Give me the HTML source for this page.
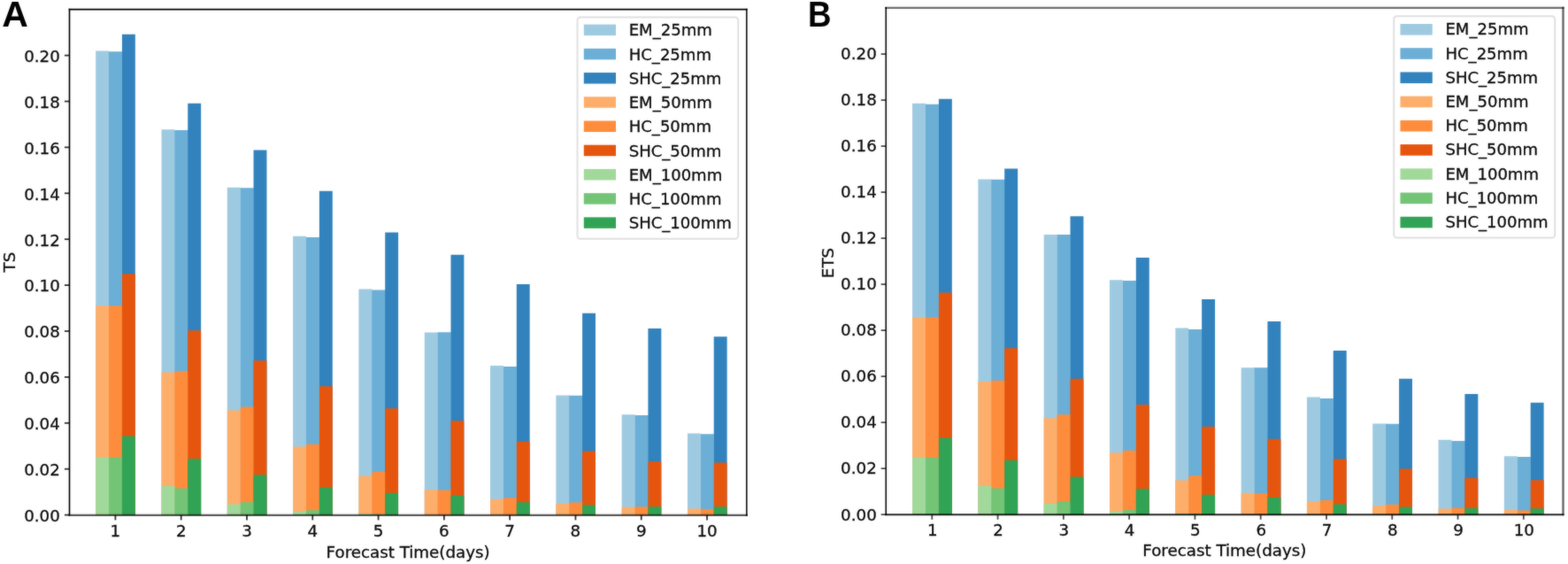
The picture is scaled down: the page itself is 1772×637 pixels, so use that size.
<!DOCTYPE html>
<html lang="en">
<head>
<meta charset="utf-8">
<title>TS and ETS by forecast time</title>
<style>
html,body{margin:0;padding:0;background:#fff;}
body{width:1772px;height:637px;overflow:hidden;}
svg{display:block;}
.t{font-family:"DejaVu Sans","Liberation Sans",sans-serif;font-size:17.4px;fill:#0a0a0a;stroke:#0a0a0a;stroke-width:0.3px;}
.pl{font-family:"Liberation Sans",Arial,Helvetica,sans-serif;font-weight:bold;font-size:41px;fill:#000;}
</style>
</head>
<body>
<svg width="1772" height="637" viewBox="0 0 1772 637">
<defs>
<filter id="soft" x="0" y="0" width="1772" height="637" filterUnits="userSpaceOnUse" color-interpolation-filters="sRGB">
<feGaussianBlur in="SourceGraphic" stdDeviation="0.85" result="b"/>
<feComposite in="SourceGraphic" in2="b" operator="arithmetic" k1="0" k2="0.6799999999999999" k3="0.32" k4="0"/>
</filter>
</defs>
<rect x="0" y="0" width="1772" height="637" fill="#ffffff"/>
<g filter="url(#soft)">
<g id="panelA">
<g class="bars">
<rect x="108.18" y="57.50" width="14.88" height="524.10" fill="#9ecae1"/>
<rect x="122.86" y="58.25" width="1.2" height="523.35" fill="#9ecae1"/>
<rect x="123.06" y="58.25" width="14.88" height="523.35" fill="#6baed6"/>
<rect x="137.74" y="58.25" width="1.2" height="523.35" fill="#6baed6"/>
<rect x="137.94" y="38.75" width="14.88" height="542.85" fill="#3182bd"/>
<rect x="108.18" y="345.25" width="14.88" height="236.35" fill="#fdae6b"/>
<rect x="122.86" y="345.25" width="1.2" height="236.35" fill="#fdae6b"/>
<rect x="123.06" y="345.25" width="14.88" height="236.35" fill="#fd8d3c"/>
<rect x="137.74" y="345.25" width="1.2" height="236.35" fill="#fd8d3c"/>
<rect x="137.94" y="309.30" width="14.88" height="272.30" fill="#e6550d"/>
<rect x="108.18" y="516.50" width="14.88" height="65.10" fill="#a1d99b"/>
<rect x="122.86" y="516.50" width="1.2" height="65.10" fill="#a1d99b"/>
<rect x="123.06" y="516.50" width="14.88" height="65.10" fill="#74c476"/>
<rect x="137.74" y="516.50" width="1.2" height="65.10" fill="#74c476"/>
<rect x="137.94" y="492.50" width="14.88" height="89.10" fill="#31a354"/>
<rect x="182.49" y="146.25" width="14.88" height="435.35" fill="#9ecae1"/>
<rect x="197.17" y="147.00" width="1.2" height="434.60" fill="#9ecae1"/>
<rect x="197.37" y="147.00" width="14.88" height="434.60" fill="#6baed6"/>
<rect x="212.05" y="147.00" width="1.2" height="434.60" fill="#6baed6"/>
<rect x="212.25" y="116.75" width="14.88" height="464.85" fill="#3182bd"/>
<rect x="182.49" y="420.50" width="14.88" height="161.10" fill="#fdae6b"/>
<rect x="197.17" y="420.50" width="1.2" height="161.10" fill="#fdae6b"/>
<rect x="197.37" y="419.00" width="14.88" height="162.60" fill="#fd8d3c"/>
<rect x="212.05" y="419.00" width="1.2" height="162.60" fill="#fd8d3c"/>
<rect x="212.25" y="373.25" width="14.88" height="208.35" fill="#e6550d"/>
<rect x="182.49" y="549.00" width="14.88" height="32.60" fill="#a1d99b"/>
<rect x="197.17" y="551.50" width="1.2" height="30.10" fill="#a1d99b"/>
<rect x="197.37" y="551.50" width="14.88" height="30.10" fill="#74c476"/>
<rect x="212.05" y="551.50" width="1.2" height="30.10" fill="#74c476"/>
<rect x="212.25" y="518.00" width="14.88" height="63.60" fill="#31a354"/>
<rect x="256.80" y="211.75" width="14.88" height="369.85" fill="#9ecae1"/>
<rect x="271.48" y="212.25" width="1.2" height="369.35" fill="#9ecae1"/>
<rect x="271.68" y="212.25" width="14.88" height="369.35" fill="#6baed6"/>
<rect x="286.36" y="212.25" width="1.2" height="369.35" fill="#6baed6"/>
<rect x="286.56" y="169.50" width="14.88" height="412.10" fill="#3182bd"/>
<rect x="256.80" y="463.50" width="14.88" height="118.10" fill="#fdae6b"/>
<rect x="271.48" y="463.50" width="1.2" height="118.10" fill="#fdae6b"/>
<rect x="271.68" y="459.50" width="14.88" height="122.10" fill="#fd8d3c"/>
<rect x="286.36" y="459.50" width="1.2" height="122.10" fill="#fd8d3c"/>
<rect x="286.56" y="407.25" width="14.88" height="174.35" fill="#e6550d"/>
<rect x="256.80" y="569.50" width="14.88" height="12.10" fill="#a1d99b"/>
<rect x="271.48" y="569.50" width="1.2" height="12.10" fill="#a1d99b"/>
<rect x="271.68" y="567.25" width="14.88" height="14.35" fill="#74c476"/>
<rect x="286.36" y="567.25" width="1.2" height="14.35" fill="#74c476"/>
<rect x="286.56" y="536.25" width="14.88" height="45.35" fill="#31a354"/>
<rect x="331.11" y="266.75" width="14.88" height="314.85" fill="#9ecae1"/>
<rect x="345.79" y="268.00" width="1.2" height="313.60" fill="#9ecae1"/>
<rect x="345.99" y="268.00" width="14.88" height="313.60" fill="#6baed6"/>
<rect x="360.67" y="268.00" width="1.2" height="313.60" fill="#6baed6"/>
<rect x="360.87" y="215.75" width="14.88" height="365.85" fill="#3182bd"/>
<rect x="331.11" y="504.50" width="14.88" height="77.10" fill="#fdae6b"/>
<rect x="345.79" y="504.50" width="1.2" height="77.10" fill="#fdae6b"/>
<rect x="345.99" y="501.75" width="14.88" height="79.85" fill="#fd8d3c"/>
<rect x="360.67" y="501.75" width="1.2" height="79.85" fill="#fd8d3c"/>
<rect x="360.87" y="436.25" width="14.88" height="145.35" fill="#e6550d"/>
<rect x="331.11" y="578.00" width="14.88" height="3.60" fill="#a1d99b"/>
<rect x="345.79" y="578.00" width="1.2" height="3.60" fill="#a1d99b"/>
<rect x="345.99" y="576.25" width="14.88" height="5.35" fill="#74c476"/>
<rect x="360.67" y="576.25" width="1.2" height="5.35" fill="#74c476"/>
<rect x="360.87" y="550.25" width="14.88" height="31.35" fill="#31a354"/>
<rect x="405.42" y="326.50" width="14.88" height="255.10" fill="#9ecae1"/>
<rect x="420.10" y="327.50" width="1.2" height="254.10" fill="#9ecae1"/>
<rect x="420.30" y="327.50" width="14.88" height="254.10" fill="#6baed6"/>
<rect x="434.98" y="327.50" width="1.2" height="254.10" fill="#6baed6"/>
<rect x="435.18" y="262.50" width="14.88" height="319.10" fill="#3182bd"/>
<rect x="405.42" y="537.50" width="14.88" height="44.10" fill="#fdae6b"/>
<rect x="420.10" y="537.50" width="1.2" height="44.10" fill="#fdae6b"/>
<rect x="420.30" y="532.75" width="14.88" height="48.85" fill="#fd8d3c"/>
<rect x="434.98" y="532.75" width="1.2" height="48.85" fill="#fd8d3c"/>
<rect x="435.18" y="461.25" width="14.88" height="120.35" fill="#e6550d"/>
<rect x="405.42" y="580.20" width="14.88" height="1.40" fill="#a1d99b"/>
<rect x="420.10" y="580.50" width="1.2" height="1.10" fill="#a1d99b"/>
<rect x="420.30" y="580.50" width="14.88" height="1.10" fill="#74c476"/>
<rect x="434.98" y="580.50" width="1.2" height="1.10" fill="#74c476"/>
<rect x="435.18" y="556.75" width="14.88" height="24.85" fill="#31a354"/>
<rect x="479.73" y="375.50" width="14.88" height="206.10" fill="#9ecae1"/>
<rect x="494.41" y="375.50" width="1.2" height="206.10" fill="#9ecae1"/>
<rect x="494.61" y="375.25" width="14.88" height="206.35" fill="#6baed6"/>
<rect x="509.29" y="375.25" width="1.2" height="206.35" fill="#6baed6"/>
<rect x="509.49" y="287.75" width="14.88" height="293.85" fill="#3182bd"/>
<rect x="479.73" y="553.25" width="14.88" height="28.35" fill="#fdae6b"/>
<rect x="494.41" y="553.50" width="1.2" height="28.10" fill="#fdae6b"/>
<rect x="494.61" y="553.50" width="14.88" height="28.10" fill="#fd8d3c"/>
<rect x="509.29" y="553.50" width="1.2" height="28.10" fill="#fd8d3c"/>
<rect x="509.49" y="475.25" width="14.88" height="106.35" fill="#e6550d"/>
<rect x="509.49" y="559.50" width="14.88" height="22.10" fill="#31a354"/>
<rect x="554.04" y="413.00" width="14.88" height="168.60" fill="#9ecae1"/>
<rect x="568.72" y="414.00" width="1.2" height="167.60" fill="#9ecae1"/>
<rect x="568.92" y="414.00" width="14.88" height="167.60" fill="#6baed6"/>
<rect x="583.60" y="414.00" width="1.2" height="167.60" fill="#6baed6"/>
<rect x="583.80" y="321.00" width="14.88" height="260.60" fill="#3182bd"/>
<rect x="554.04" y="563.75" width="14.88" height="17.85" fill="#fdae6b"/>
<rect x="568.72" y="563.75" width="1.2" height="17.85" fill="#fdae6b"/>
<rect x="568.92" y="562.25" width="14.88" height="19.35" fill="#fd8d3c"/>
<rect x="583.60" y="562.25" width="1.2" height="19.35" fill="#fd8d3c"/>
<rect x="583.80" y="498.75" width="14.88" height="82.85" fill="#e6550d"/>
<rect x="583.80" y="567.25" width="14.88" height="14.35" fill="#31a354"/>
<rect x="628.35" y="446.50" width="14.88" height="135.10" fill="#9ecae1"/>
<rect x="643.03" y="446.75" width="1.2" height="134.85" fill="#9ecae1"/>
<rect x="643.23" y="446.75" width="14.88" height="134.85" fill="#6baed6"/>
<rect x="657.91" y="446.75" width="1.2" height="134.85" fill="#6baed6"/>
<rect x="658.11" y="353.75" width="14.88" height="227.85" fill="#3182bd"/>
<rect x="628.35" y="569.00" width="14.88" height="12.60" fill="#fdae6b"/>
<rect x="643.03" y="569.00" width="1.2" height="12.60" fill="#fdae6b"/>
<rect x="643.23" y="567.50" width="14.88" height="14.10" fill="#fd8d3c"/>
<rect x="657.91" y="567.50" width="1.2" height="14.10" fill="#fd8d3c"/>
<rect x="658.11" y="509.50" width="14.88" height="72.10" fill="#e6550d"/>
<rect x="658.11" y="570.25" width="14.88" height="11.35" fill="#31a354"/>
<rect x="702.66" y="468.25" width="14.88" height="113.35" fill="#9ecae1"/>
<rect x="717.34" y="469.00" width="1.2" height="112.60" fill="#9ecae1"/>
<rect x="717.54" y="469.00" width="14.88" height="112.60" fill="#6baed6"/>
<rect x="732.22" y="469.00" width="1.2" height="112.60" fill="#6baed6"/>
<rect x="732.42" y="371.00" width="14.88" height="210.60" fill="#3182bd"/>
<rect x="702.66" y="572.75" width="14.88" height="8.85" fill="#fdae6b"/>
<rect x="717.34" y="572.75" width="1.2" height="8.85" fill="#fdae6b"/>
<rect x="717.54" y="572.25" width="14.88" height="9.35" fill="#fd8d3c"/>
<rect x="732.22" y="572.25" width="1.2" height="9.35" fill="#fd8d3c"/>
<rect x="732.42" y="521.25" width="14.88" height="60.35" fill="#e6550d"/>
<rect x="732.42" y="572.25" width="14.88" height="9.35" fill="#31a354"/>
<rect x="776.97" y="489.50" width="14.88" height="92.10" fill="#9ecae1"/>
<rect x="791.65" y="490.25" width="1.2" height="91.35" fill="#9ecae1"/>
<rect x="791.85" y="490.25" width="14.88" height="91.35" fill="#6baed6"/>
<rect x="806.53" y="490.25" width="1.2" height="91.35" fill="#6baed6"/>
<rect x="806.73" y="380.25" width="14.88" height="201.35" fill="#3182bd"/>
<rect x="776.97" y="574.50" width="14.88" height="7.10" fill="#fdae6b"/>
<rect x="791.65" y="575.00" width="1.2" height="6.60" fill="#fdae6b"/>
<rect x="791.85" y="575.00" width="14.88" height="6.60" fill="#fd8d3c"/>
<rect x="806.53" y="575.00" width="1.2" height="6.60" fill="#fd8d3c"/>
<rect x="806.73" y="522.50" width="14.88" height="59.10" fill="#e6550d"/>
<rect x="806.73" y="572.25" width="14.88" height="9.35" fill="#31a354"/>
</g>
<g class="spines" stroke-linecap="square">
<line x1="78.50" y1="10.60" x2="78.50" y2="581.80" stroke="#000" stroke-width="1.6"/>
<line x1="843.80" y1="10.60" x2="843.80" y2="581.80" stroke="#000" stroke-width="1.7" stroke-opacity="0.9"/>
<line x1="78.50" y1="10.60" x2="843.80" y2="10.60" stroke="#000" stroke-width="1.6"/>
<line x1="78.50" y1="581.80" x2="843.80" y2="581.80" stroke="#000" stroke-width="2.2" stroke-opacity="0.66"/>
</g>
<g class="xticks">
<line x1="130.40" y1="581.80" x2="130.40" y2="587.40" stroke="#000" stroke-width="1.8" stroke-opacity="0.8"/>
<text transform="translate(130.40,606.30) scale(1.05,1)" text-anchor="middle" class="t">1</text>
<line x1="204.69" y1="581.80" x2="204.69" y2="587.40" stroke="#000" stroke-width="1.8" stroke-opacity="0.8"/>
<text transform="translate(204.69,606.30) scale(1.05,1)" text-anchor="middle" class="t">2</text>
<line x1="278.98" y1="581.80" x2="278.98" y2="587.40" stroke="#000" stroke-width="1.8" stroke-opacity="0.8"/>
<text transform="translate(278.98,606.30) scale(1.05,1)" text-anchor="middle" class="t">3</text>
<line x1="353.27" y1="581.80" x2="353.27" y2="587.40" stroke="#000" stroke-width="1.8" stroke-opacity="0.8"/>
<text transform="translate(353.27,606.30) scale(1.05,1)" text-anchor="middle" class="t">4</text>
<line x1="427.56" y1="581.80" x2="427.56" y2="587.40" stroke="#000" stroke-width="1.8" stroke-opacity="0.8"/>
<text transform="translate(427.56,606.30) scale(1.05,1)" text-anchor="middle" class="t">5</text>
<line x1="501.85" y1="581.80" x2="501.85" y2="587.40" stroke="#000" stroke-width="1.8" stroke-opacity="0.8"/>
<text transform="translate(501.85,606.30) scale(1.05,1)" text-anchor="middle" class="t">6</text>
<line x1="576.14" y1="581.80" x2="576.14" y2="587.40" stroke="#000" stroke-width="1.8" stroke-opacity="0.8"/>
<text transform="translate(576.14,606.30) scale(1.05,1)" text-anchor="middle" class="t">7</text>
<line x1="650.43" y1="581.80" x2="650.43" y2="587.40" stroke="#000" stroke-width="1.8" stroke-opacity="0.8"/>
<text transform="translate(650.43,606.30) scale(1.05,1)" text-anchor="middle" class="t">8</text>
<line x1="724.72" y1="581.80" x2="724.72" y2="587.40" stroke="#000" stroke-width="1.8" stroke-opacity="0.8"/>
<text transform="translate(724.72,606.30) scale(1.05,1)" text-anchor="middle" class="t">9</text>
<line x1="799.01" y1="581.80" x2="799.01" y2="587.40" stroke="#000" stroke-width="1.8" stroke-opacity="0.8"/>
<text transform="translate(799.01,606.30) scale(1.05,1)" text-anchor="middle" class="t">10</text>
</g>
<g class="yticks">
<line x1="72.90" y1="581.60" x2="78.50" y2="581.60" stroke="#000" stroke-width="1.8" stroke-opacity="0.8"/>
<text transform="translate(67.80,588.95) scale(1.05,1)" text-anchor="end" class="t">0.00</text>
<line x1="72.90" y1="529.70" x2="78.50" y2="529.70" stroke="#000" stroke-width="1.8" stroke-opacity="0.8"/>
<text transform="translate(67.80,537.05) scale(1.05,1)" text-anchor="end" class="t">0.02</text>
<line x1="72.90" y1="477.80" x2="78.50" y2="477.80" stroke="#000" stroke-width="1.8" stroke-opacity="0.8"/>
<text transform="translate(67.80,485.15) scale(1.05,1)" text-anchor="end" class="t">0.04</text>
<line x1="72.90" y1="425.90" x2="78.50" y2="425.90" stroke="#000" stroke-width="1.8" stroke-opacity="0.8"/>
<text transform="translate(67.80,433.25) scale(1.05,1)" text-anchor="end" class="t">0.06</text>
<line x1="72.90" y1="374.00" x2="78.50" y2="374.00" stroke="#000" stroke-width="1.8" stroke-opacity="0.8"/>
<text transform="translate(67.80,381.35) scale(1.05,1)" text-anchor="end" class="t">0.08</text>
<line x1="72.90" y1="322.10" x2="78.50" y2="322.10" stroke="#000" stroke-width="1.8" stroke-opacity="0.8"/>
<text transform="translate(67.80,329.45) scale(1.05,1)" text-anchor="end" class="t">0.10</text>
<line x1="72.90" y1="270.20" x2="78.50" y2="270.20" stroke="#000" stroke-width="1.8" stroke-opacity="0.8"/>
<text transform="translate(67.80,277.55) scale(1.05,1)" text-anchor="end" class="t">0.12</text>
<line x1="72.90" y1="218.30" x2="78.50" y2="218.30" stroke="#000" stroke-width="1.8" stroke-opacity="0.8"/>
<text transform="translate(67.80,225.65) scale(1.05,1)" text-anchor="end" class="t">0.14</text>
<line x1="72.90" y1="166.40" x2="78.50" y2="166.40" stroke="#000" stroke-width="1.8" stroke-opacity="0.8"/>
<text transform="translate(67.80,173.75) scale(1.05,1)" text-anchor="end" class="t">0.16</text>
<line x1="72.90" y1="114.50" x2="78.50" y2="114.50" stroke="#000" stroke-width="1.8" stroke-opacity="0.8"/>
<text transform="translate(67.80,121.85) scale(1.05,1)" text-anchor="end" class="t">0.18</text>
<line x1="72.90" y1="62.60" x2="78.50" y2="62.60" stroke="#000" stroke-width="1.8" stroke-opacity="0.8"/>
<text transform="translate(67.80,69.95) scale(1.05,1)" text-anchor="end" class="t">0.20</text>
</g>
<text transform="translate(461.15,629.50) scale(1.05,1)" text-anchor="middle" class="t">Forecast Time(days)</text>
<text transform="translate(16.70,296.00) rotate(-90) scale(1.05,1)" text-anchor="middle" class="t">TS</text>
<text transform="translate(2.20,30.10) scale(1.0,1)" class="pl">A</text>
<g class="legend">
<rect x="652.50" y="19.50" width="181.75" height="250.30" rx="3.5" ry="3.5" fill="#fff" fill-opacity="0.8" stroke="#dcdcdc" stroke-opacity="0.9" stroke-width="1.9"/>
<rect x="659.80" y="27.60" width="36.20" height="12.5" fill="#9ecae1"/>
<text transform="translate(710.70,40.40) scale(1.037,1)" class="t">EM_25mm</text>
<rect x="659.80" y="54.82" width="36.20" height="12.5" fill="#6baed6"/>
<text transform="translate(710.70,67.62) scale(1.037,1)" class="t">HC_25mm</text>
<rect x="659.80" y="82.04" width="36.20" height="12.5" fill="#3182bd"/>
<text transform="translate(710.70,94.84) scale(1.037,1)" class="t">SHC_25mm</text>
<rect x="659.80" y="109.26" width="36.20" height="12.5" fill="#fdae6b"/>
<text transform="translate(710.70,122.06) scale(1.037,1)" class="t">EM_50mm</text>
<rect x="659.80" y="136.48" width="36.20" height="12.5" fill="#fd8d3c"/>
<text transform="translate(710.70,149.28) scale(1.037,1)" class="t">HC_50mm</text>
<rect x="659.80" y="163.70" width="36.20" height="12.5" fill="#e6550d"/>
<text transform="translate(710.70,176.50) scale(1.037,1)" class="t">SHC_50mm</text>
<rect x="659.80" y="190.92" width="36.20" height="12.5" fill="#a1d99b"/>
<text transform="translate(710.70,203.72) scale(1.037,1)" class="t">EM_100mm</text>
<rect x="659.80" y="218.14" width="36.20" height="12.5" fill="#74c476"/>
<text transform="translate(710.70,230.94) scale(1.037,1)" class="t">HC_100mm</text>
<rect x="659.80" y="245.36" width="36.20" height="12.5" fill="#31a354"/>
<text transform="translate(710.70,258.16) scale(1.037,1)" class="t">SHC_100mm</text>
</g>
</g>
<g id="panelB">
<g class="bars">
<rect x="1031.07" y="116.75" width="14.92" height="464.40" fill="#9ecae1"/>
<rect x="1045.79" y="117.75" width="1.2" height="463.40" fill="#9ecae1"/>
<rect x="1045.99" y="117.75" width="14.92" height="463.40" fill="#6baed6"/>
<rect x="1060.71" y="117.75" width="1.2" height="463.40" fill="#6baed6"/>
<rect x="1060.91" y="111.75" width="14.92" height="469.40" fill="#3182bd"/>
<rect x="1031.07" y="358.50" width="14.92" height="222.65" fill="#fdae6b"/>
<rect x="1045.79" y="358.50" width="1.2" height="222.65" fill="#fdae6b"/>
<rect x="1045.99" y="358.50" width="14.92" height="222.65" fill="#fd8d3c"/>
<rect x="1060.71" y="358.50" width="1.2" height="222.65" fill="#fd8d3c"/>
<rect x="1060.91" y="330.50" width="14.92" height="250.65" fill="#e6550d"/>
<rect x="1031.07" y="516.50" width="14.92" height="64.65" fill="#a1d99b"/>
<rect x="1045.79" y="516.75" width="1.2" height="64.40" fill="#a1d99b"/>
<rect x="1045.99" y="516.75" width="14.92" height="64.40" fill="#74c476"/>
<rect x="1060.71" y="516.75" width="1.2" height="64.40" fill="#74c476"/>
<rect x="1060.91" y="494.50" width="14.92" height="86.65" fill="#31a354"/>
<rect x="1105.38" y="202.50" width="14.92" height="378.65" fill="#9ecae1"/>
<rect x="1120.10" y="202.75" width="1.2" height="378.40" fill="#9ecae1"/>
<rect x="1120.30" y="202.75" width="14.92" height="378.40" fill="#6baed6"/>
<rect x="1135.02" y="202.75" width="1.2" height="378.40" fill="#6baed6"/>
<rect x="1135.22" y="190.50" width="14.92" height="390.65" fill="#3182bd"/>
<rect x="1105.38" y="431.00" width="14.92" height="150.15" fill="#fdae6b"/>
<rect x="1120.10" y="431.00" width="1.2" height="150.15" fill="#fdae6b"/>
<rect x="1120.30" y="429.75" width="14.92" height="151.40" fill="#fd8d3c"/>
<rect x="1135.02" y="429.75" width="1.2" height="151.40" fill="#fd8d3c"/>
<rect x="1135.22" y="393.25" width="14.92" height="187.90" fill="#e6550d"/>
<rect x="1105.38" y="549.00" width="14.92" height="32.15" fill="#a1d99b"/>
<rect x="1120.10" y="551.50" width="1.2" height="29.65" fill="#a1d99b"/>
<rect x="1120.30" y="551.50" width="14.92" height="29.65" fill="#74c476"/>
<rect x="1135.02" y="551.50" width="1.2" height="29.65" fill="#74c476"/>
<rect x="1135.22" y="519.75" width="14.92" height="61.40" fill="#31a354"/>
<rect x="1179.69" y="265.00" width="14.92" height="316.15" fill="#9ecae1"/>
<rect x="1194.41" y="265.00" width="1.2" height="316.15" fill="#9ecae1"/>
<rect x="1194.61" y="265.00" width="14.92" height="316.15" fill="#6baed6"/>
<rect x="1209.33" y="265.00" width="1.2" height="316.15" fill="#6baed6"/>
<rect x="1209.53" y="244.25" width="14.92" height="336.90" fill="#3182bd"/>
<rect x="1179.69" y="472.25" width="14.92" height="108.90" fill="#fdae6b"/>
<rect x="1194.41" y="472.25" width="1.2" height="108.90" fill="#fdae6b"/>
<rect x="1194.61" y="468.25" width="14.92" height="112.90" fill="#fd8d3c"/>
<rect x="1209.33" y="468.25" width="1.2" height="112.90" fill="#fd8d3c"/>
<rect x="1209.53" y="427.75" width="14.92" height="153.40" fill="#e6550d"/>
<rect x="1179.69" y="569.00" width="14.92" height="12.15" fill="#a1d99b"/>
<rect x="1194.41" y="569.00" width="1.2" height="12.15" fill="#a1d99b"/>
<rect x="1194.61" y="566.25" width="14.92" height="14.90" fill="#74c476"/>
<rect x="1209.33" y="566.25" width="1.2" height="14.90" fill="#74c476"/>
<rect x="1209.53" y="538.50" width="14.92" height="42.65" fill="#31a354"/>
<rect x="1254.00" y="316.25" width="14.92" height="264.90" fill="#9ecae1"/>
<rect x="1268.72" y="317.00" width="1.2" height="264.15" fill="#9ecae1"/>
<rect x="1268.92" y="317.00" width="14.92" height="264.15" fill="#6baed6"/>
<rect x="1283.64" y="317.00" width="1.2" height="264.15" fill="#6baed6"/>
<rect x="1283.84" y="291.00" width="14.92" height="290.15" fill="#3182bd"/>
<rect x="1254.00" y="511.25" width="14.92" height="69.90" fill="#fdae6b"/>
<rect x="1268.72" y="511.25" width="1.2" height="69.90" fill="#fdae6b"/>
<rect x="1268.92" y="508.75" width="14.92" height="72.40" fill="#fd8d3c"/>
<rect x="1283.64" y="508.75" width="1.2" height="72.40" fill="#fd8d3c"/>
<rect x="1283.84" y="457.00" width="14.92" height="124.15" fill="#e6550d"/>
<rect x="1254.00" y="577.50" width="14.92" height="3.65" fill="#a1d99b"/>
<rect x="1268.72" y="577.50" width="1.2" height="3.65" fill="#a1d99b"/>
<rect x="1268.92" y="576.00" width="14.92" height="5.15" fill="#74c476"/>
<rect x="1283.64" y="576.00" width="1.2" height="5.15" fill="#74c476"/>
<rect x="1283.84" y="552.00" width="14.92" height="29.15" fill="#31a354"/>
<rect x="1328.31" y="370.50" width="14.92" height="210.65" fill="#9ecae1"/>
<rect x="1343.03" y="372.00" width="1.2" height="209.15" fill="#9ecae1"/>
<rect x="1343.23" y="372.00" width="14.92" height="209.15" fill="#6baed6"/>
<rect x="1357.95" y="372.00" width="1.2" height="209.15" fill="#6baed6"/>
<rect x="1358.15" y="338.00" width="14.92" height="243.15" fill="#3182bd"/>
<rect x="1328.31" y="542.50" width="14.92" height="38.65" fill="#fdae6b"/>
<rect x="1343.03" y="542.50" width="1.2" height="38.65" fill="#fdae6b"/>
<rect x="1343.23" y="537.25" width="14.92" height="43.90" fill="#fd8d3c"/>
<rect x="1357.95" y="537.25" width="1.2" height="43.90" fill="#fd8d3c"/>
<rect x="1358.15" y="481.75" width="14.92" height="99.40" fill="#e6550d"/>
<rect x="1328.31" y="579.90" width="14.92" height="1.25" fill="#a1d99b"/>
<rect x="1343.03" y="580.10" width="1.2" height="1.05" fill="#a1d99b"/>
<rect x="1343.23" y="580.10" width="14.92" height="1.05" fill="#74c476"/>
<rect x="1357.95" y="580.10" width="1.2" height="1.05" fill="#74c476"/>
<rect x="1358.15" y="558.75" width="14.92" height="22.40" fill="#31a354"/>
<rect x="1402.62" y="415.25" width="14.92" height="165.90" fill="#9ecae1"/>
<rect x="1417.34" y="415.25" width="1.2" height="165.90" fill="#9ecae1"/>
<rect x="1417.54" y="415.25" width="14.92" height="165.90" fill="#6baed6"/>
<rect x="1432.26" y="415.25" width="1.2" height="165.90" fill="#6baed6"/>
<rect x="1432.46" y="363.00" width="14.92" height="218.15" fill="#3182bd"/>
<rect x="1402.62" y="556.75" width="14.92" height="24.40" fill="#fdae6b"/>
<rect x="1417.34" y="557.25" width="1.2" height="23.90" fill="#fdae6b"/>
<rect x="1417.54" y="557.25" width="14.92" height="23.90" fill="#fd8d3c"/>
<rect x="1432.26" y="557.25" width="1.2" height="23.90" fill="#fd8d3c"/>
<rect x="1432.46" y="495.75" width="14.92" height="85.40" fill="#e6550d"/>
<rect x="1432.46" y="561.75" width="14.92" height="19.40" fill="#31a354"/>
<rect x="1476.93" y="448.50" width="14.92" height="132.65" fill="#9ecae1"/>
<rect x="1491.65" y="450.00" width="1.2" height="131.15" fill="#9ecae1"/>
<rect x="1491.85" y="450.00" width="14.92" height="131.15" fill="#6baed6"/>
<rect x="1506.57" y="450.00" width="1.2" height="131.15" fill="#6baed6"/>
<rect x="1506.77" y="396.00" width="14.92" height="185.15" fill="#3182bd"/>
<rect x="1476.93" y="566.25" width="14.92" height="14.90" fill="#fdae6b"/>
<rect x="1491.65" y="566.25" width="1.2" height="14.90" fill="#fdae6b"/>
<rect x="1491.85" y="565.00" width="14.92" height="16.15" fill="#fd8d3c"/>
<rect x="1506.57" y="565.00" width="1.2" height="16.15" fill="#fd8d3c"/>
<rect x="1506.77" y="518.50" width="14.92" height="62.65" fill="#e6550d"/>
<rect x="1506.77" y="569.50" width="14.92" height="11.65" fill="#31a354"/>
<rect x="1551.24" y="478.50" width="14.92" height="102.65" fill="#9ecae1"/>
<rect x="1565.96" y="478.75" width="1.2" height="102.40" fill="#9ecae1"/>
<rect x="1566.16" y="478.75" width="14.92" height="102.40" fill="#6baed6"/>
<rect x="1580.88" y="478.75" width="1.2" height="102.40" fill="#6baed6"/>
<rect x="1581.08" y="427.75" width="14.92" height="153.40" fill="#3182bd"/>
<rect x="1551.24" y="571.00" width="14.92" height="10.15" fill="#fdae6b"/>
<rect x="1565.96" y="571.00" width="1.2" height="10.15" fill="#fdae6b"/>
<rect x="1566.16" y="569.75" width="14.92" height="11.40" fill="#fd8d3c"/>
<rect x="1580.88" y="569.75" width="1.2" height="11.40" fill="#fd8d3c"/>
<rect x="1581.08" y="529.50" width="14.92" height="51.65" fill="#e6550d"/>
<rect x="1581.08" y="572.50" width="14.92" height="8.65" fill="#31a354"/>
<rect x="1625.55" y="496.75" width="14.92" height="84.40" fill="#9ecae1"/>
<rect x="1640.27" y="498.00" width="1.2" height="83.15" fill="#9ecae1"/>
<rect x="1640.47" y="498.00" width="14.92" height="83.15" fill="#6baed6"/>
<rect x="1655.19" y="498.00" width="1.2" height="83.15" fill="#6baed6"/>
<rect x="1655.39" y="445.00" width="14.92" height="136.15" fill="#3182bd"/>
<rect x="1625.55" y="574.50" width="14.92" height="6.65" fill="#fdae6b"/>
<rect x="1640.27" y="574.50" width="1.2" height="6.65" fill="#fdae6b"/>
<rect x="1640.47" y="573.75" width="14.92" height="7.40" fill="#fd8d3c"/>
<rect x="1655.19" y="573.75" width="1.2" height="7.40" fill="#fd8d3c"/>
<rect x="1655.39" y="540.00" width="14.92" height="41.15" fill="#e6550d"/>
<rect x="1655.39" y="574.00" width="14.92" height="7.15" fill="#31a354"/>
<rect x="1699.86" y="515.25" width="14.92" height="65.90" fill="#9ecae1"/>
<rect x="1714.58" y="516.00" width="1.2" height="65.15" fill="#9ecae1"/>
<rect x="1714.78" y="516.00" width="14.92" height="65.15" fill="#6baed6"/>
<rect x="1729.50" y="516.00" width="1.2" height="65.15" fill="#6baed6"/>
<rect x="1729.70" y="454.75" width="14.92" height="126.40" fill="#3182bd"/>
<rect x="1699.86" y="576.00" width="14.92" height="5.15" fill="#fdae6b"/>
<rect x="1714.58" y="576.50" width="1.2" height="4.65" fill="#fdae6b"/>
<rect x="1714.78" y="576.50" width="14.92" height="4.65" fill="#fd8d3c"/>
<rect x="1729.50" y="576.50" width="1.2" height="4.65" fill="#fd8d3c"/>
<rect x="1729.70" y="542.25" width="14.92" height="38.90" fill="#e6550d"/>
<rect x="1729.70" y="574.25" width="14.92" height="6.90" fill="#31a354"/>
</g>
<g class="spines" stroke-linecap="square">
<line x1="1001.25" y1="8.95" x2="1001.25" y2="581.15" stroke="#000" stroke-width="1.7" stroke-opacity="0.9"/>
<line x1="1766.50" y1="8.95" x2="1766.50" y2="581.15" stroke="#000" stroke-width="2.3" stroke-opacity="0.62"/>
<line x1="1001.25" y1="8.95" x2="1766.50" y2="8.95" stroke="#000" stroke-width="2.3" stroke-opacity="0.56"/>
<line x1="1001.25" y1="581.15" x2="1766.50" y2="581.15" stroke="#000" stroke-width="2.0" stroke-opacity="0.85"/>
</g>
<g class="xticks">
<line x1="1053.30" y1="581.15" x2="1053.30" y2="586.75" stroke="#000" stroke-width="1.8" stroke-opacity="0.7"/>
<text transform="translate(1053.80,604.70) scale(1.05,1)" text-anchor="middle" class="t">1</text>
<line x1="1127.58" y1="581.15" x2="1127.58" y2="586.75" stroke="#000" stroke-width="1.8" stroke-opacity="0.7"/>
<text transform="translate(1128.08,604.70) scale(1.05,1)" text-anchor="middle" class="t">2</text>
<line x1="1201.86" y1="581.15" x2="1201.86" y2="586.75" stroke="#000" stroke-width="1.8" stroke-opacity="0.7"/>
<text transform="translate(1202.36,604.70) scale(1.05,1)" text-anchor="middle" class="t">3</text>
<line x1="1276.14" y1="581.15" x2="1276.14" y2="586.75" stroke="#000" stroke-width="1.8" stroke-opacity="0.7"/>
<text transform="translate(1276.64,604.70) scale(1.05,1)" text-anchor="middle" class="t">4</text>
<line x1="1350.42" y1="581.15" x2="1350.42" y2="586.75" stroke="#000" stroke-width="1.8" stroke-opacity="0.7"/>
<text transform="translate(1350.92,604.70) scale(1.05,1)" text-anchor="middle" class="t">5</text>
<line x1="1424.70" y1="581.15" x2="1424.70" y2="586.75" stroke="#000" stroke-width="1.8" stroke-opacity="0.7"/>
<text transform="translate(1425.20,604.70) scale(1.05,1)" text-anchor="middle" class="t">6</text>
<line x1="1498.98" y1="581.15" x2="1498.98" y2="586.75" stroke="#000" stroke-width="1.8" stroke-opacity="0.7"/>
<text transform="translate(1499.48,604.70) scale(1.05,1)" text-anchor="middle" class="t">7</text>
<line x1="1573.26" y1="581.15" x2="1573.26" y2="586.75" stroke="#000" stroke-width="1.8" stroke-opacity="0.7"/>
<text transform="translate(1573.76,604.70) scale(1.05,1)" text-anchor="middle" class="t">8</text>
<line x1="1647.54" y1="581.15" x2="1647.54" y2="586.75" stroke="#000" stroke-width="1.8" stroke-opacity="0.7"/>
<text transform="translate(1648.04,604.70) scale(1.05,1)" text-anchor="middle" class="t">9</text>
<line x1="1721.82" y1="581.15" x2="1721.82" y2="586.75" stroke="#000" stroke-width="1.8" stroke-opacity="0.7"/>
<text transform="translate(1722.32,604.70) scale(1.05,1)" text-anchor="middle" class="t">10</text>
</g>
<g class="yticks">
<line x1="995.65" y1="581.15" x2="1001.25" y2="581.15" stroke="#000" stroke-width="1.8" stroke-opacity="0.7"/>
<text transform="translate(990.75,587.50) scale(1.05,1)" text-anchor="end" class="t">0.00</text>
<line x1="995.65" y1="529.14" x2="1001.25" y2="529.14" stroke="#000" stroke-width="1.8" stroke-opacity="0.7"/>
<text transform="translate(990.75,535.49) scale(1.05,1)" text-anchor="end" class="t">0.02</text>
<line x1="995.65" y1="477.13" x2="1001.25" y2="477.13" stroke="#000" stroke-width="1.8" stroke-opacity="0.7"/>
<text transform="translate(990.75,483.48) scale(1.05,1)" text-anchor="end" class="t">0.04</text>
<line x1="995.65" y1="425.12" x2="1001.25" y2="425.12" stroke="#000" stroke-width="1.8" stroke-opacity="0.7"/>
<text transform="translate(990.75,431.47) scale(1.05,1)" text-anchor="end" class="t">0.06</text>
<line x1="995.65" y1="373.11" x2="1001.25" y2="373.11" stroke="#000" stroke-width="1.8" stroke-opacity="0.7"/>
<text transform="translate(990.75,379.46) scale(1.05,1)" text-anchor="end" class="t">0.08</text>
<line x1="995.65" y1="321.10" x2="1001.25" y2="321.10" stroke="#000" stroke-width="1.8" stroke-opacity="0.7"/>
<text transform="translate(990.75,327.45) scale(1.05,1)" text-anchor="end" class="t">0.10</text>
<line x1="995.65" y1="269.09" x2="1001.25" y2="269.09" stroke="#000" stroke-width="1.8" stroke-opacity="0.7"/>
<text transform="translate(990.75,275.44) scale(1.05,1)" text-anchor="end" class="t">0.12</text>
<line x1="995.65" y1="217.08" x2="1001.25" y2="217.08" stroke="#000" stroke-width="1.8" stroke-opacity="0.7"/>
<text transform="translate(990.75,223.43) scale(1.05,1)" text-anchor="end" class="t">0.14</text>
<line x1="995.65" y1="165.07" x2="1001.25" y2="165.07" stroke="#000" stroke-width="1.8" stroke-opacity="0.7"/>
<text transform="translate(990.75,171.42) scale(1.05,1)" text-anchor="end" class="t">0.16</text>
<line x1="995.65" y1="113.06" x2="1001.25" y2="113.06" stroke="#000" stroke-width="1.8" stroke-opacity="0.7"/>
<text transform="translate(990.75,119.41) scale(1.05,1)" text-anchor="end" class="t">0.18</text>
<line x1="995.65" y1="61.05" x2="1001.25" y2="61.05" stroke="#000" stroke-width="1.8" stroke-opacity="0.7"/>
<text transform="translate(990.75,67.40) scale(1.05,1)" text-anchor="end" class="t">0.20</text>
</g>
<text transform="translate(1383.88,628.20) scale(1.05,1)" text-anchor="middle" class="t">Forecast Time(days)</text>
<text transform="translate(941.60,297.00) rotate(-90) scale(1.05,1)" text-anchor="middle" class="t">ETS</text>
<text transform="translate(913.00,30.10) scale(0.895,1)" class="pl">B</text>
<g class="legend">
<rect x="1575.25" y="18.25" width="182.00" height="250.25" rx="3.5" ry="3.5" fill="#fff" fill-opacity="0.8" stroke="#dcdcdc" stroke-opacity="0.9" stroke-width="1.9"/>
<rect x="1582.45" y="27.00" width="36.30" height="12.6" fill="#9ecae1"/>
<text transform="translate(1633.45,39.35) scale(1.037,1)" class="t">EM_25mm</text>
<rect x="1582.45" y="54.22" width="36.30" height="12.6" fill="#6baed6"/>
<text transform="translate(1633.45,66.57) scale(1.037,1)" class="t">HC_25mm</text>
<rect x="1582.45" y="81.44" width="36.30" height="12.6" fill="#3182bd"/>
<text transform="translate(1633.45,93.79) scale(1.037,1)" class="t">SHC_25mm</text>
<rect x="1582.45" y="108.66" width="36.30" height="12.6" fill="#fdae6b"/>
<text transform="translate(1633.45,121.01) scale(1.037,1)" class="t">EM_50mm</text>
<rect x="1582.45" y="135.88" width="36.30" height="12.6" fill="#fd8d3c"/>
<text transform="translate(1633.45,148.23) scale(1.037,1)" class="t">HC_50mm</text>
<rect x="1582.45" y="163.10" width="36.30" height="12.6" fill="#e6550d"/>
<text transform="translate(1633.45,175.45) scale(1.037,1)" class="t">SHC_50mm</text>
<rect x="1582.45" y="190.32" width="36.30" height="12.6" fill="#a1d99b"/>
<text transform="translate(1633.45,202.67) scale(1.037,1)" class="t">EM_100mm</text>
<rect x="1582.45" y="217.54" width="36.30" height="12.6" fill="#74c476"/>
<text transform="translate(1633.45,229.89) scale(1.037,1)" class="t">HC_100mm</text>
<rect x="1582.45" y="244.76" width="36.30" height="12.6" fill="#31a354"/>
<text transform="translate(1633.45,257.11) scale(1.037,1)" class="t">SHC_100mm</text>
</g>
</g>
</g>
</svg>
</body>
</html>
